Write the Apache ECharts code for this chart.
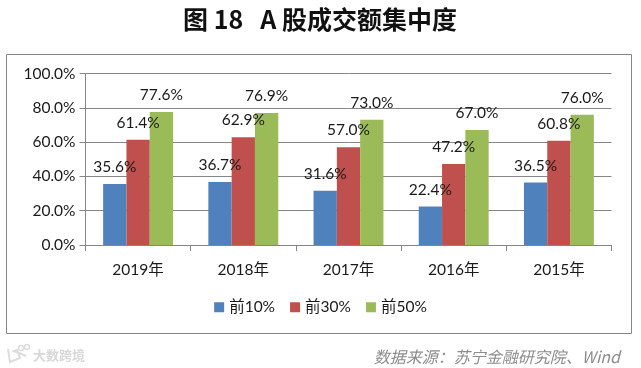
<!DOCTYPE html>
<html>
<head>
<meta charset="utf-8">
<style>
  html, body { margin: 0; padding: 0; background: #fff; }
  #chart { width: 641px; height: 368px; }
</style>
<script src="https://cdn.jsdelivr.net/npm/echarts@6/dist/echarts.min.js"></script>
</head>
<body>
<div id="chart"></div>
<script>
const years = ['2019年', '2018年', '2017年', '2016年', '2015年']
const yTicks = [0, 20, 40, 60, 80, 100]
const top10 = [35.6, 36.7, 31.6, 22.4, 36.5]
const top30 = [61.4, 62.9, 57.0, 47.2, 60.8]
const top50 = [77.6, 76.9, 73.0, 67.0, 76.0]

const textFont = 'Lato, "Noto Sans CJK SC", sans-serif'
const axisGray = '#868686'
const markGray = '#dcdcdc'

function makeSeries(name, values, color) {
  return {
    name: name,
    type: 'bar',
    data: values,
    barWidth: 23.3,
    barGap: 0,
    itemStyle: { color: color },
    label: {
      show: true,
      position: 'top',
      distance: 9,
      color: '#1a1a1a',
      fontFamily: textFont,
      fontSize: 15.5,
      formatter: p => p.value.toFixed(1) + '%'
    }
  }
}

const chartInstance = echarts.init(document.getElementById('chart'), null, { renderer: 'canvas' })

chartInstance.setOption({
  backgroundColor: '#fff',
  animation: false,
  grid: { left: 85.5, right: 29.5, top: 73.5, bottom: 123 },
  legend: {
    bottom: 48,
    left: 'center',
    itemWidth: 10,
    itemHeight: 10,
    itemGap: 15,
    icon: 'rect',
    textStyle: { fontFamily: textFont, fontSize: 15.5, color: '#1a1a1a', padding: [0, 0, 0, 0] }
  },
  xAxis: {
    type: 'category',
    data: years,
    axisLine: { lineStyle: { color: axisGray } },
    axisTick: { show: true, length: 6, lineStyle: { color: axisGray } },
    axisLabel: { color: '#1a1a1a', fontFamily: textFont, fontSize: 15.5, margin: 17 }
  },
  yAxis: {
    type: 'value',
    min: yTicks[0],
    max: yTicks[yTicks.length - 1],
    interval: yTicks[1] - yTicks[0],
    axisLine: { show: true, lineStyle: { color: axisGray } },
    axisTick: { show: true, length: 6, lineStyle: { color: axisGray } },
    axisLabel: {
      color: '#1a1a1a',
      fontFamily: textFont,
      fontSize: 15.5,
      margin: 10,
      formatter: v => v.toFixed(1) + '%'
    },
    splitLine: { lineStyle: { color: axisGray } }
  },
  series: [
    makeSeries('前10%', top10, '#4f81bd'),
    makeSeries('前30%', top30, '#c0504d'),
    makeSeries('前50%', top50, '#9bbb59')
  ],
  graphic: [
    {
      type: 'rect',
      silent: true,
      z: -1,
      shape: { x: 6.5, y: 54.5, width: 625, height: 279 },
      style: { fill: '#fff', stroke: '#868686', lineWidth: 1 }
    },
    {
      type: 'text',
      x: 320,
      y: 19,
      style: {
        text: '图 18   A 股成交额集中度',
        fill: '#111',
        font: 'bold 25px "Noto Sans CJK SC", sans-serif',
        align: 'center',
        verticalAlign: 'middle'
      }
    },
    {
      type: 'text',
      x: 620,
      y: 357,
      style: {
        text: '数据来源：苏宁金融研究院、Wind',
        fill: '#8c8c8c',
        font: 'italic 16px "Noto Sans CJK SC", sans-serif',
        align: 'right',
        verticalAlign: 'middle'
      }
    },
    // watermark, logo first and then its text
    {
      type: 'polyline',
      silent: true,
      shape: { points: [[8, 349], [10, 362], [20, 358], [17, 350], [14, 351], [26, 356]] },
      style: { fill: 'none', stroke: markGray, lineWidth: 2 }
    },
    {
      type: 'circle',
      silent: true,
      shape: { cx: 21, cy: 348, r: 2.5 },
      style: { fill: 'none', stroke: markGray, lineWidth: 1.5 }
    },
    {
      type: 'circle',
      silent: true,
      shape: { cx: 27, cy: 347, r: 2.5 },
      style: { fill: 'none', stroke: markGray, lineWidth: 1.5 }
    },
    {
      type: 'text',
      x: 33,
      y: 355,
      style: {
        text: '大数跨境',
        fill: '#d8d8d8',
        font: 'bold 13px "Noto Sans CJK SC", sans-serif',
        align: 'left',
        verticalAlign: 'middle'
      }
    }
  ]
})
</script>
</body>
</html>
